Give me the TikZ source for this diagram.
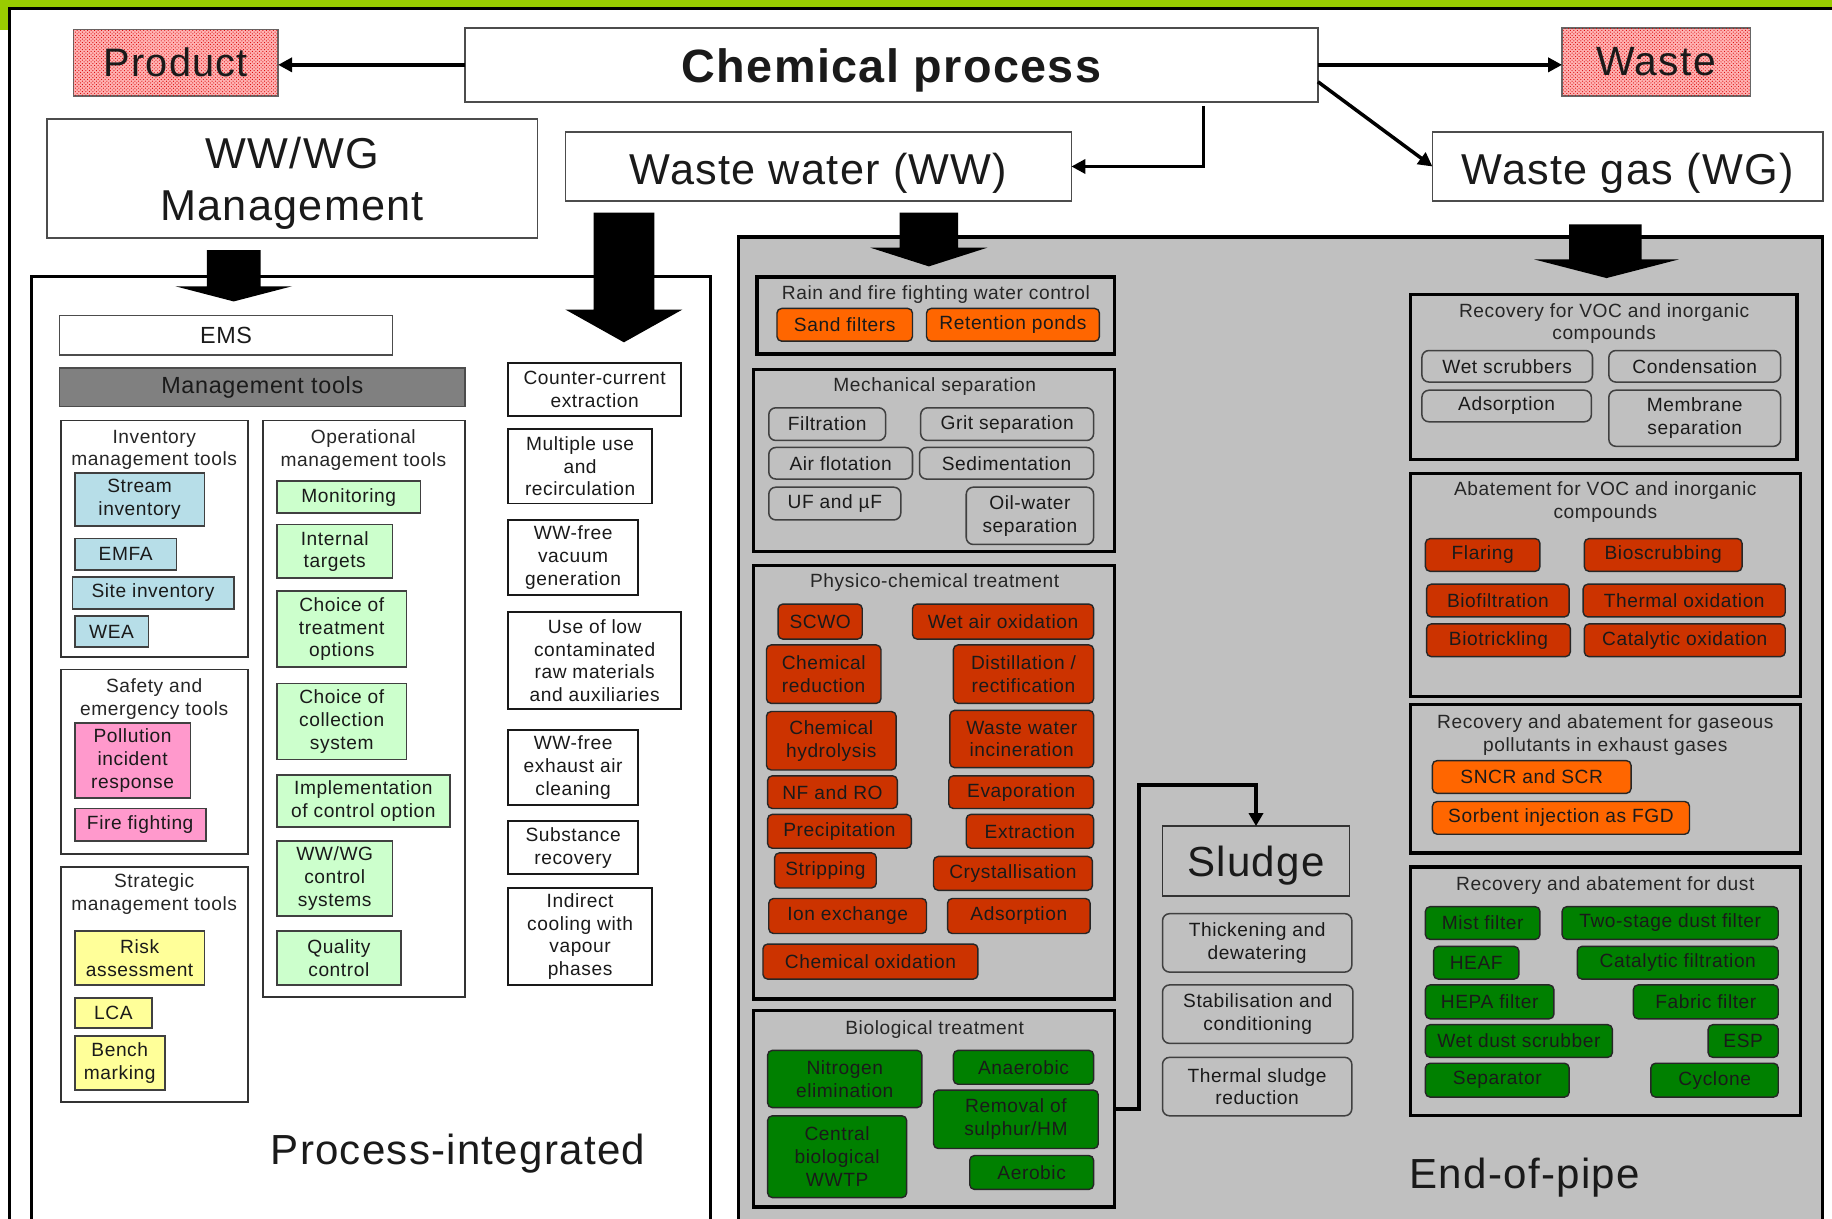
\documentclass[tikz,border=0pt]{standalone}
\usepackage{fontspec}
\setmainfont{Liberation Sans}[LetterSpace=3]
\usetikzlibrary{patterns,arrows.meta,calc}
\definecolor{gbar}{HTML}{99CC00}
\definecolor{panelgray}{HTML}{C0C0C0}
\definecolor{cblue}{HTML}{B7DEE8}
\definecolor{cgreen}{HTML}{CCFFCC}
\definecolor{cpink}{HTML}{FF99CC}
\definecolor{cyellow}{HTML}{FFFF99}
\definecolor{corange}{HTML}{FF6600}
\definecolor{cred}{HTML}{CC3300}
\definecolor{cdgreen}{HTML}{008000}
\definecolor{mgray}{HTML}{808080}
\definecolor{txt}{HTML}{1A1A1A}
\newcommand\fsm{\fontsize{16.4}{19.5}\selectfont}
\newcommand\fbig{\fontsize{37}{44}\selectfont}
\newcommand\mybox[7]{%
 \pgfmathsetmacro\mbw{#4-#2}\pgfmathsetmacro\mbh{#5-#3}%
 \pgfmathsetmacro\mbx{(#2+#4)/2}\pgfmathsetmacro\mby{(#3+#5)/2}%
 \node[#6, minimum width=\mbw pt, minimum height=\mbh pt] (#1) at (\mbx,\mby) {#7};}
\begin{document}
\begin{tikzpicture}[x=1pt,y=-1pt,
  every node/.style={inner sep=0pt, outer sep=0pt, align=center, font=\fsm, text=txt},
  topbox/.style={draw=black!70, line width=1.5pt, fill=white},
  hatchbox/.style={draw=black!60, line width=1.2pt, fill=red!30, postaction={pattern=crosshatch dots, pattern color=red!85!black}},
  lpanel/.style={draw=black, line width=2.5pt, fill=white},
  gpanel/.style={draw=black, line width=3pt, fill=panelgray},
  lgrp/.style={draw=black!80, line width=1.5pt, fill=white},
  cbox/.style={draw=black!75, line width=1.5pt},
  wbox/.style={draw=black!90, line width=1.5pt, fill=white},
  ggrp/.style={draw=black, line width=2.8pt},
  obox/.style={draw=black!75, line width=1.3pt, rounded corners=6pt},
  rbox/.style={draw=black!85, line width=1.2pt, rounded corners=4pt},
  ttl/.style={text=black!85},
  conn/.style={line width=3pt, -{Triangle[length=12pt,width=12pt]}},
  blk/.style={fill=black}
]
\clip (0,0) rectangle (1568,1043);
\fill[white] (0,0) rectangle (1568,1043);
% page frame
\fill[gbar] (0,0) rectangle (1568,6);
\fill[gbar] (0,0) rectangle (7,26);
\draw[line width=2.5pt] (8.5,1050) -- (8.5,7.5) -- (1570,7.5);

% top row
\mybox{prod}{63}{25}{238}{82}{hatchbox}{\fontsize{34}{40}\selectfont Product}
\mybox{chem}{398}{24}{1128}{87}{topbox,font=\fontsize{40}{48}\selectfont\bfseries,text height=36pt,text depth=5.4pt}{Chemical process}
\mybox{waste}{1337}{24}{1498}{82}{hatchbox}{\fontsize{35}{40}\selectfont Waste}
\mybox{mgmt}{40}{102}{460}{204}{topbox}{}
\node[font=\fbig] (mgmtt) at (250,157) {WW/WG\\Management};
\mybox{ww}{484}{113}{917}{172}{topbox,font=\fbig,text height=36pt,text depth=4.8pt}{Waste water (WW)}
\mybox{wg}{1226}{113}{1560}{172}{topbox,font=\fbig,text height=36pt,text depth=4.8pt}{Waste gas (WG)}

\draw[conn] (chem.west) -- (chem.west -| prod.east);
\draw[conn] (chem.east) -- (chem.east -| waste.west);
\coordinate (c1) at (1030,91);
\coordinate (c2) at (1128,70);
\draw[conn] (c1) |- (ww.east);
\draw[conn] (c2) -- (wg.west);

% panels
\mybox{lp}{27}{237}{608}{1060}{lpanel}{}
\mybox{gp}{632}{203}{1560}{1060}{gpanel}{}

% block arrows
\fill[blk] (177,214) -- (223,214) -- (223,245) -- (250,245) -- (200,258) -- (150,245) -- (177,245) -- cycle;
\fill[blk] (508,182) -- (560,182) -- (560,265) -- (584,265) -- (534,293) -- (484,265) -- (508,265) -- cycle;
\fill[blk] (770,182) -- (820,182) -- (820,212) -- (845,212) -- (795,228) -- (745,212) -- (770,212) -- cycle;
\fill[blk] (1343,192) -- (1405,192) -- (1405,222) -- (1437,222) -- (1375,238) -- (1313,222) -- (1343,222) -- cycle;

% ---------- left panel ----------
\mybox{ems}{51}{270}{336}{304}{topbox}{\fontsize{20}{24}\selectfont EMS}
\mybox{mtools}{51}{315}{398}{348}{draw=black!70,line width=1.5pt,fill=mgray}{\fontsize{20}{24}\selectfont Management tools}

\mybox{inv}{52}{360}{212}{562}{lgrp}{}
\node[ttl] (invt) at (132,385) {Inventory\\management tools};
\mybox{si}{64}{405}{175}{450}{cbox,fill=cblue}{Stream\\inventory}
\mybox{emfa}{64}{461}{151}{488}{cbox,fill=cblue}{EMFA}
\mybox{site}{62}{494}{200}{521}{cbox,fill=cblue}{Site inventory}
\mybox{wea}{64}{527}{127}{554}{cbox,fill=cblue}{WEA}

\mybox{saf}{52}{573}{212}{731}{lgrp}{}
\node[ttl] (saft) at (132,598) {Safety and\\emergency tools};
\mybox{pir}{64}{619}{163}{683}{cbox,fill=cpink}{Pollution\\incident\\response}
\mybox{ff}{64}{692}{176}{720}{cbox,fill=cpink}{Fire fighting}

\mybox{str}{52}{742}{212}{943}{lgrp}{}
\node[ttl] (strt) at (132,765) {Strategic\\management tools};
\mybox{risk}{64}{797}{175}{843}{cbox,fill=cyellow}{Risk\\assessment}
\mybox{lca}{64}{854}{130}{880}{cbox,fill=cyellow}{LCA}
\mybox{bench}{64}{887}{141}{933}{cbox,fill=cyellow}{Bench\\marking}

\mybox{op}{225}{360}{398}{853}{lgrp}{}
\node[ttl] (opt) at (311,385) {Operational\\management tools};
\mybox{mon}{237}{412}{360}{439}{cbox,fill=cgreen}{Monitoring}
\mybox{it}{237}{449}{336}{495}{cbox,fill=cgreen}{Internal\\targets}
\mybox{cto}{237}{506}{348}{571}{cbox,fill=cgreen}{Choice of\\treatment\\options}
\mybox{ccs}{237}{585}{348}{650}{cbox,fill=cgreen}{Choice of\\collection\\system}
\mybox{ico}{237}{663}{385}{708}{cbox,fill=cgreen}{Implementation\\of control option}
\mybox{wcs}{237}{720}{336}{784}{cbox,fill=cgreen}{WW/WG\\control\\systems}
\mybox{qc}{237}{797}{343}{843}{cbox,fill=cgreen}{Quality\\control}

\mybox{cce}{435}{311}{583}{356}{wbox}{Counter-current\\extraction}
\mybox{mur}{435}{367}{558}{431}{wbox}{Multiple use\\and\\recirculation}
\mybox{wvg}{435}{445}{546}{509}{wbox}{WW-free\\vacuum\\generation}
\mybox{ulc}{435}{524}{583}{607}{wbox}{Use of low\\contaminated\\raw materials\\and auxiliaries}
\mybox{wea2}{435}{625}{546}{689}{wbox}{WW-free\\exhaust air\\cleaning}
\mybox{sr}{435}{703}{546}{748}{wbox}{Substance\\recovery}
\mybox{icv}{435}{760}{558}{843}{wbox}{Indirect\\cooling with\\vapour\\phases}

\node (pint) at (392,987) {\fontsize{36}{42}\selectfont Process-integrated};

% ---------- gray panel: waste water ----------
\mybox{rain}{648}{237}{954}{303}{ggrp}{}
\node[ttl] (raint) at (801,252) {Rain and fire fighting water control};
\mybox{sand}{665}{264}{781}{292}{rbox,fill=corange}{Sand filters}
\mybox{ret}{793}{264}{941}{292}{rbox,fill=corange}{Retention ponds}

\mybox{mech}{645}{316}{954}{472}{ggrp}{}
\node[ttl] (mecht) at (800,331) {Mechanical separation};
\mybox{filt}{658}{349}{758}{377}{obox}{Filtration}
\mybox{grit}{788}{349}{936}{377}{obox}{Grit separation}
\mybox{airf}{658}{383}{781}{410}{obox}{Air flotation}
\mybox{sedi}{787}{383}{936}{410}{obox}{Sedimentation}
\mybox{uf}{658}{417}{771}{445}{obox}{UF and µF}
\mybox{oil}{827}{417}{936}{466}{obox}{Oil-water\\separation}

\mybox{phys}{645}{484}{954}{855}{ggrp}{}
\node[ttl] (physt) at (800,499) {Physico-chemical treatment};
\mybox{scwo}{666}{517}{738}{547}{rbox,fill=cred}{SCWO}
\mybox{wao}{781}{517}{936}{547}{rbox,fill=cred}{Wet air oxidation}
\mybox{cred1}{656}{552}{754}{602}{rbox,fill=cred}{Chemical\\reduction}
\mybox{dist}{816}{552}{936}{602}{rbox,fill=cred}{Distillation /\\rectification}
\mybox{chyd}{656}{609}{767}{659}{rbox,fill=cred}{Chemical\\hydrolysis}
\mybox{wwi}{813}{608}{936}{657}{rbox,fill=cred}{Waste water\\incineration}
\mybox{nfro}{657}{664}{768}{692}{rbox,fill=cred}{NF and RO}
\mybox{evap}{812}{664}{936}{692}{rbox,fill=cred}{Evaporation}
\mybox{prec}{657}{697}{780}{726}{rbox,fill=cred}{Precipitation}
\mybox{extr}{827}{697}{936}{726}{rbox,fill=cred}{Extraction}
\mybox{strip}{663}{730}{750}{760}{rbox,fill=cred}{Stripping}
\mybox{crys}{799}{733}{935}{762}{rbox,fill=cred}{Crystallisation}
\mybox{ion}{658}{769}{793}{799}{rbox,fill=cred}{Ion exchange}
\mybox{adsw}{811}{769}{933}{799}{rbox,fill=cred}{Adsorption}
\mybox{cox}{653}{808}{837}{838}{rbox,fill=cred}{Chemical oxidation}

\mybox{bio}{645}{865}{954}{1033}{ggrp}{}
\node[ttl] (biot) at (800,881) {Biological treatment};
\mybox{nit}{657}{899}{789}{948}{rbox,fill=cdgreen}{Nitrogen\\elimination}
\mybox{anae}{816}{899}{936}{928}{rbox,fill=cdgreen}{Anaerobic}
\mybox{rsh}{799}{933}{940}{983}{rbox,fill=cdgreen}{Removal of\\sulphur/HM}
\mybox{cbw}{657}{955}{776}{1025}{rbox,fill=cdgreen}{Central\\biological\\WWTP}
\mybox{aer}{830}{989}{936}{1018}{rbox,fill=cdgreen}{Aerobic}

% sludge
\mybox{sludge}{995}{707}{1155}{767}{draw=black!80,line width=1.3pt,font=\fontsize{36}{42}\selectfont,text height=32pt,text depth=5.6pt}{Sludge}
\mybox{thick}{995}{782}{1157}{832}{obox}{Thickening and\\dewatering}
\mybox{stab}{995}{843}{1158}{893}{obox}{Stabilisation and\\conditioning}
\mybox{therm}{995}{905}{1157}{955}{obox}{Thermal sludge\\reduction}
\draw[line width=3pt, -{Triangle[length=11pt,width=12pt]}] (bio.east) -- ++(21,0) |- ($(sludge.north)+(0,-35)$) -- (sludge.north);

% ---------- gray panel: waste gas ----------
\mybox{rvoc}{1207}{252}{1538}{393}{ggrp}{}
\node[ttl] (rvoct) at (1373,277) {Recovery for VOC and inorganic\\compounds};
\mybox{wets}{1217}{300}{1363}{327}{obox}{Wet scrubbers}
\mybox{cond}{1377}{300}{1524}{327}{obox}{Condensation}
\mybox{adsg}{1217}{334}{1362}{361}{obox}{Adsorption}
\mybox{memb}{1377}{334}{1524}{382}{obox}{Membrane\\separation}

\mybox{avoc}{1207}{405}{1541}{596}{ggrp}{}
\node[ttl] (avoct) at (1374,430) {Abatement for VOC and inorganic\\compounds};
\mybox{flar}{1220}{461}{1318}{489}{rbox,fill=cred}{Flaring}
\mybox{bios}{1356}{461}{1491}{489}{rbox,fill=cred}{Bioscrubbing}
\mybox{biof}{1221}{500}{1343}{528}{rbox,fill=cred}{Biofiltration}
\mybox{tox}{1355}{500}{1528}{528}{rbox,fill=cred}{Thermal oxidation}
\mybox{biot2}{1221}{534}{1344}{562}{rbox,fill=cred}{Biotrickling}
\mybox{catox}{1356}{534}{1528}{562}{rbox,fill=cred}{Catalytic oxidation}

\mybox{gas}{1207}{603}{1541}{730}{ggrp}{}
\node[ttl] (gast) at (1374,629) {Recovery and abatement for gaseous\\pollutants in exhaust gases};
\mybox{sncr}{1226}{651}{1396}{679}{rbox,fill=corange}{SNCR and SCR}
\mybox{sorb}{1226}{686}{1446}{714}{rbox,fill=corange}{Sorbent injection as FGD}

\mybox{dust}{1207}{742}{1541}{955}{ggrp}{}
\node[ttl] (dustt) at (1374,758) {Recovery and abatement for dust};
\mybox{mist}{1220}{776}{1318}{804}{rbox,fill=cdgreen}{Mist filter}
\mybox{tsd}{1337}{776}{1522}{804}{rbox,fill=cdgreen}{Two-stage dust filter}
\mybox{heaf}{1227}{810}{1300}{838}{rbox,fill=cdgreen}{HEAF}
\mybox{catf}{1350}{810}{1522}{838}{rbox,fill=cdgreen}{Catalytic filtration}
\mybox{hepa}{1220}{843}{1330}{872}{rbox,fill=cdgreen}{HEPA filter}
\mybox{fab}{1398}{843}{1522}{872}{rbox,fill=cdgreen}{Fabric filter}
\mybox{wds}{1220}{877}{1380}{905}{rbox,fill=cdgreen}{Wet dust scrubber}
\mybox{esp}{1462}{877}{1522}{905}{rbox,fill=cdgreen}{ESP}
\mybox{sep}{1220}{910}{1343}{939}{rbox,fill=cdgreen}{Separator}
\mybox{cyc}{1413}{910}{1522}{939}{rbox,fill=cdgreen}{Cyclone}

\node (eop) at (1305,1008) {\fontsize{36}{42}\selectfont End-of-pipe};
\end{tikzpicture}
\end{document}
